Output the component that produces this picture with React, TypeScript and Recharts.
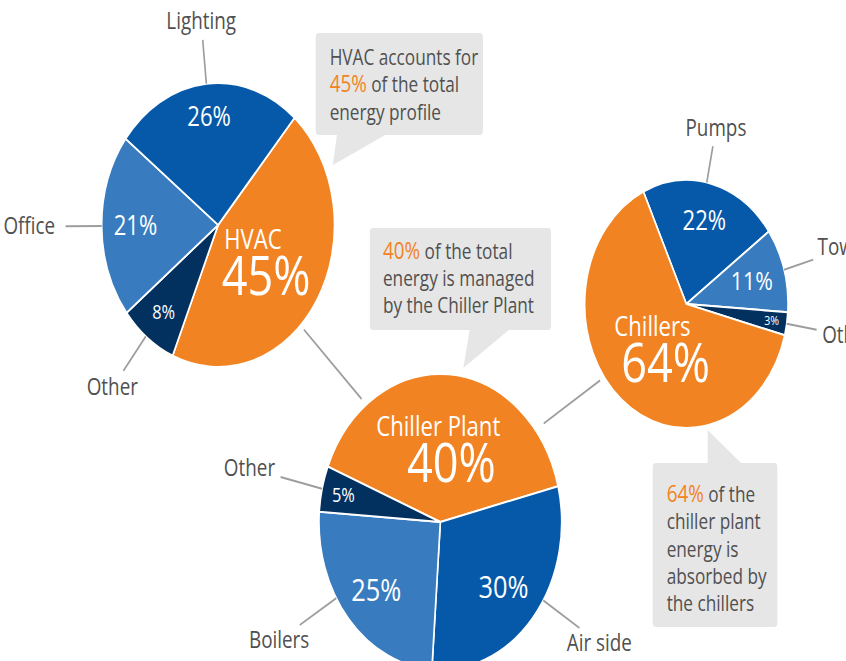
import React from "react";
import { Cell, Customized, Pie, PieChart } from "recharts";

// the source artwork is squeezed horizontally, so the chart is drawn wider and scaled back
const SX = 0.82;
const W = 846;
const H = 661;

const ORANGE = "#f28322";
const DARK = "#0659a9";
const MID = "#387cbf";
const NAVY = "#03315f";
const INK = "#505050";
const RULE = "#9d9d9d";
const BOX = "#e6e6e6";
const FONT = "'Open Sans', 'Noto Sans', sans-serif";

// building energy profile
const buildingNames = ["HVAC", "Other", "Office", "Lighting"];
const buildingValues = [45, 8, 21, 26];

// HVAC split
const hvacNames = ["Chiller Plant", "Air side", "Boilers", "Other"];
const hvacValues = [40, 30, 25, 5];

// chiller plant split
const plantNames = ["Pumps", "Towers", "Other", "Chillers"];
const plantValues = [22, 11, 3, 64];

// callout texts, {…} marks the orange figure
const hvacNote = ["HVAC accounts for", "{45%} of the total", "energy profile"];
const plantNote = ["{40%} of the total", "energy is managed", "by the Chiller Plant"];
const chillerNote = ["{64%} of the", "chiller plant", "energy is", "absorbed by", "the chillers"];

type PieCfg = {
  key: string;
  names: string[];
  values: number[];
  colors: string[];
  cx: number;
  cy: number;
  r: number;
  start: number;
  hi: number;
  inR: number[];
  inSize: number[];
  tilt: number[]; // leader line turn away from the slice middle, degrees
  blockR: number;
  lead: number;
};

const pies: PieCfg[] = [
  {
    key: "building",
    names: buildingNames,
    values: buildingValues,
    colors: [ORANGE, NAVY, MID, DARK],
    cx: 266,
    cy: 225,
    r: 142,
    start: 49,
    hi: 0,
    inR: [0, 0.77, 0.71, 0.77],
    inSize: [0, 20, 27, 27],
    tilt: [0, -1, 0, 0],
    blockR: 0.42,
    lead: 44,
  },
  {
    key: "hvac",
    names: hvacNames,
    values: hvacValues,
    colors: [ORANGE, DARK, MID, NAVY],
    cx: 537,
    cy: 522,
    r: 148,
    start: 158,
    hi: 0,
    inR: [0, 0.68, 0.7, 0.82],
    inSize: [0, 31, 31, 20],
    tilt: [0, 8, -10, 0],
    blockR: 0.53,
    lead: 52,
  },
  {
    key: "plant",
    names: plantNames,
    values: plantValues,
    colors: [DARK, MID, NAVY, ORANGE],
    cx: 837,
    cy: 304,
    r: 124,
    start: 115,
    hi: 3,
    inR: [0.7, 0.67, 0.85, 0],
    inSize: [27, 26, 13, 0],
    tilt: [3, 0, 0, 0],
    blockR: 0.42,
    lead: 37,
  },
];

const RAD = Math.PI / 180;
const polar = (cx: number, cy: number, r: number, a: number) => [
  cx + r * Math.cos(-a * RAD),
  cy + r * Math.sin(-a * RAD),
];

const OUTER = 23;

function makeLabel(p: PieCfg) {
  return (props: any) => {
    const { cx, cy, midAngle, outerRadius, index } = props;
    const name = p.names[index];
    const pct = `${p.values[index]}%`;
    if (index === p.hi) {
      const [bx, by] = polar(cx, cy, outerRadius * p.blockR, midAngle);
      return (
        <g fontFamily={FONT} fill="#fff">
          <text x={bx - 8} y={by - 8} textAnchor="middle" fontSize={27} fill="#fff">
            {name}
          </text>
          <text x={bx + 8} y={by + 38} textAnchor="middle" fontSize={55} fill="#fff">
            {pct}
          </text>
        </g>
      );
    }
    const size = p.inSize[index];
    const a = midAngle + p.tilt[index];
    const [lx, ly] = polar(cx, cy, outerRadius * p.inR[index], midAngle);
    const [sx, sy] = polar(cx, cy, outerRadius, a);
    const [ex, ey] = polar(cx, cy, outerRadius + p.lead, a);
    const c = Math.cos(-a * RAD);
    const s = Math.sin(-a * RAD);
    const halfW = name.length * OUTER * 0.27;
    const halfH = OUTER * 0.5;
    const t =
      Math.min(
        Math.abs(c) > 1e-3 ? halfW / Math.abs(c) : 1e9,
        Math.abs(s) > 1e-3 ? halfH / Math.abs(s) : 1e9
      ) + 7;
    const tx = ex + c * t;
    const ty = ey + s * t;
    return (
      <g fontFamily={FONT}>
        <text x={lx} y={ly + size * 0.357} textAnchor="middle" fontSize={size} fill="#fff">
          {pct}
        </text>
        <line x1={sx} y1={sy} x2={ex} y2={ey} stroke={RULE} strokeWidth={2} />
        <text x={tx} y={ty + OUTER * 0.33} textAnchor="middle" fontSize={OUTER} fill={INK}>
          {name}
        </text>
      </g>
    );
  };
}

function NoteText({ x, y, lines, gap }: { x: number; y: number; lines: string[]; gap: number }) {
  return (
    <text x={x} y={y} fontSize={21} fill={INK} fontFamily={FONT}>
      {lines.map((line, i) => {
        const m = line.match(/^\{(.+?)\}(.*)$/);
        return (
          <tspan key={i} x={x} y={y + i * gap}>
            {m ? (
              <>
                <tspan fill={ORANGE} fontSize={23}>
                  {m[1]}
                </tspan>
                {m[2]}
              </>
            ) : (
              line
            )}
          </tspan>
        );
      })}
    </text>
  );
}

function Callout({
  x,
  y,
  w,
  h,
  tip,
  children,
}: {
  x: number;
  y: number;
  w: number;
  h: number;
  tip: number[][];
  children: React.ReactNode;
}) {
  return (
    <g>
      <rect x={x} y={y} width={w} height={h} rx={4} fill={BOX} />
      <polygon points={tip.map((q) => q.join(",")).join(" ")} fill={BOX} />
      {children}
    </g>
  );
}

function Annotations() {
  const [a, b, c] = pies;
  const [x1, y1] = polar(a.cx, a.cy, a.r + 6, -45);
  const [x2, y2] = polar(b.cx, b.cy, b.r + 8, 128);
  const [x3, y3] = polar(b.cx, b.cy, b.r + 12, 38);
  const [x4, y4] = polar(c.cx, c.cy, c.r + 6, 216);
  return (
    <g>
      <line x1={x1} y1={y1} x2={x2} y2={y2} stroke={RULE} strokeWidth={2} />
      <line x1={x3} y1={y3} x2={x4} y2={y4} stroke={RULE} strokeWidth={2} />
      <Callout x={385} y={33} w={204} h={102} tip={[[411, 134], [472, 134], [406, 165]]}>
        <NoteText x={402} y={65} lines={hvacNote} gap={27.5} />
      </Callout>
      <Callout x={451} y={228} w={221} h={102} tip={[[573, 329], [622, 329], [565, 368]]}>
        <NoteText x={467} y={259} lines={plantNote} gap={27} />
      </Callout>
      <Callout x={796} y={463} w={152} h={164} tip={[[863, 464], [905, 464], [863, 430]]}>
        <NoteText x={813} y={502} lines={chillerNote} gap={27.3} />
      </Callout>
    </g>
  );
}

export default function App() {
  const cw = W / SX;
  return (
    <div
      style={{
        position: "absolute",
        left: 0,
        top: 0,
        width: W,
        height: H,
        overflow: "hidden",
        background: "#fff",
      }}
    >
      <div style={{ width: cw, height: H, transform: `scaleX(${SX})`, transformOrigin: "0 0" }}>
        <PieChart width={cw} height={H} margin={{ top: 0, right: 0, bottom: 0, left: 0 }}>
          <Customized component={Annotations} />
          {pies.map((p) => (
            <Pie
              key={p.key}
              data={p.names.map((name, i) => ({ name, value: p.values[i] }))}
              dataKey="value"
              nameKey="name"
              cx={p.cx}
              cy={p.cy}
              outerRadius={p.r}
              startAngle={p.start}
              endAngle={p.start - 360}
              stroke="#fff"
              strokeWidth={2}
              label={makeLabel(p)}
              labelLine={false}
              isAnimationActive={false}
            >
              {p.names.map((n, i) => (
                <Cell key={n + i} fill={p.colors[i]} />
              ))}
            </Pie>
          ))}
        </PieChart>
      </div>
    </div>
  );
}
